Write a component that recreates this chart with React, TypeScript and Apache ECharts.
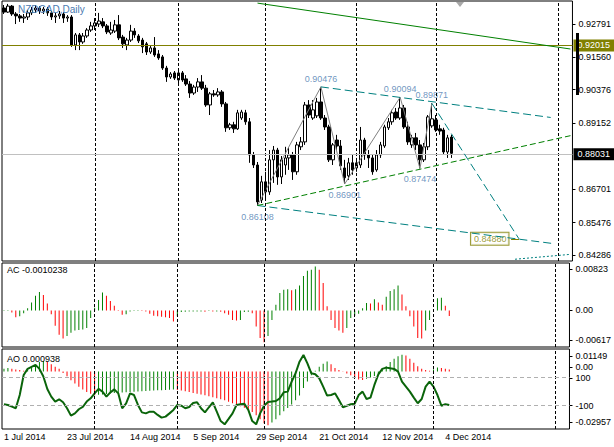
import React, { useEffect, useRef } from 'react';
import * as echarts from 'echarts';

const F = '"Liberation Sans", Arial, sans-serif';
const TOTAL_SLOTS = 144;
const TICK_STEP = 16;
const tickLabels = ['1 Jul 2014', '23 Jul 2014', '14 Aug 2014', '5 Sep 2014', '29 Sep 2014', '21 Oct 2014', '12 Nov 2014', '4 Dec 2014'];

// [open, close, low, high]
const candles: number[][] = [
  [0.9338, 0.9323, 0.9316, 0.9349], [0.9323, 0.9345, 0.9320, 0.9353], [0.9345, 0.9316, 0.9309, 0.9349], [0.9316, 0.9309, 0.9279, 0.9323],
  [0.9309, 0.9301, 0.9287, 0.9316], [0.9301, 0.9305, 0.9283, 0.9316], [0.9305, 0.9320, 0.9294, 0.9331], [0.9320, 0.9331, 0.9312, 0.9342],
  [0.9331, 0.9338, 0.9320, 0.9349], [0.9338, 0.9327, 0.9316, 0.9345], [0.9327, 0.9334, 0.9316, 0.9342], [0.9334, 0.9320, 0.9309, 0.9342],
  [0.9320, 0.9305, 0.9294, 0.9327], [0.9305, 0.9309, 0.9283, 0.9320], [0.9309, 0.9316, 0.9298, 0.9327], [0.9316, 0.9301, 0.9283, 0.9323],
  [0.9301, 0.9305, 0.9287, 0.9312], [0.9305, 0.9202, 0.9195, 0.9312], [0.9202, 0.9239, 0.9183, 0.9246], [0.9239, 0.9213, 0.9183, 0.9246],
  [0.9213, 0.9235, 0.9206, 0.9246], [0.9235, 0.9257, 0.9228, 0.9264], [0.9257, 0.9272, 0.9250, 0.9287], [0.9272, 0.9283, 0.9257, 0.9301],
  [0.9279, 0.9290, 0.9268, 0.9320], [0.9287, 0.9272, 0.9264, 0.9301], [0.9272, 0.9250, 0.9242, 0.9279], [0.9246, 0.9257, 0.9239, 0.9287],
  [0.9253, 0.9276, 0.9246, 0.9294], [0.9276, 0.9228, 0.9220, 0.9312], [0.9231, 0.9206, 0.9191, 0.9239], [0.9202, 0.9220, 0.9183, 0.9228],
  [0.9220, 0.9253, 0.9213, 0.9276], [0.9253, 0.9239, 0.9228, 0.9264], [0.9235, 0.9217, 0.9209, 0.9242], [0.9220, 0.9195, 0.9172, 0.9228],
  [0.9206, 0.9176, 0.9165, 0.9213], [0.9176, 0.9191, 0.9169, 0.9198], [0.9191, 0.9165, 0.9158, 0.9231], [0.9169, 0.9154, 0.9147, 0.9183],
  [0.9158, 0.9117, 0.9110, 0.9165], [0.9117, 0.9084, 0.9066, 0.9125], [0.9084, 0.9095, 0.9077, 0.9102], [0.9099, 0.9080, 0.9073, 0.9106],
  [0.9073, 0.9099, 0.9058, 0.9110], [0.9099, 0.9073, 0.9066, 0.9106], [0.9077, 0.9058, 0.9051, 0.9091], [0.9058, 0.9025, 0.9007, 0.9069],
  [0.9025, 0.9047, 0.9018, 0.9055], [0.9047, 0.9066, 0.9029, 0.9080], [0.9066, 0.9043, 0.9036, 0.9091], [0.9043, 0.8981, 0.8974, 0.9055],
  [0.8981, 0.9022, 0.8944, 0.9029], [0.9022, 0.9018, 0.9011, 0.9036], [0.9018, 0.9029, 0.9011, 0.9043], [0.9029, 0.8985, 0.8974, 0.9036],
  [0.8985, 0.8897, 0.8882, 0.8992], [0.8897, 0.8908, 0.8889, 0.8915], [0.8908, 0.8893, 0.8878, 0.8919], [0.8893, 0.8952, 0.8889, 0.8963],
  [0.8933, 0.8955, 0.8926, 0.8963], [0.8952, 0.8919, 0.8908, 0.8963], [0.8919, 0.8797, 0.8768, 0.8933], [0.8797, 0.8760, 0.8749, 0.8808],
  [0.8760, 0.8624, 0.86108, 0.8771], [0.8631, 0.8698, 0.8620, 0.8720], [0.8698, 0.8661, 0.8631, 0.8735], [0.8661, 0.8779, 0.8650, 0.8815],
  [0.8779, 0.8815, 0.8694, 0.8830], [0.8815, 0.8716, 0.8687, 0.8823], [0.8716, 0.8779, 0.8690, 0.8793], [0.8760, 0.8786, 0.8724, 0.8827],
  [0.8786, 0.8797, 0.8742, 0.8823], [0.8797, 0.8735, 0.8705, 0.8808], [0.8735, 0.8834, 0.8724, 0.8845], [0.8827, 0.8845, 0.8815, 0.8863],
  [0.8845, 0.8981, 0.8834, 0.8992], [0.8981, 0.8944, 0.8933, 0.8999], [0.8933, 0.8963, 0.8926, 0.8999], [0.8941, 0.8992, 0.8933, 0.9007],
  [0.8992, 0.8933, 0.8926, 0.90476], [0.8933, 0.8900, 0.8889, 0.8944], [0.8900, 0.8779, 0.8771, 0.8908], [0.8779, 0.8834, 0.8760, 0.8841],
  [0.8852, 0.8830, 0.8815, 0.8871], [0.8830, 0.8757, 0.8742, 0.8852], [0.8749, 0.8713, 0.86901, 0.8779], [0.8720, 0.8768, 0.8705, 0.8786],
  [0.8768, 0.8742, 0.8724, 0.8797], [0.8749, 0.8768, 0.8735, 0.8786], [0.8760, 0.8852, 0.8749, 0.8900], [0.8852, 0.8797, 0.8779, 0.8860],
  [0.8797, 0.8786, 0.8749, 0.8815], [0.8786, 0.8735, 0.8724, 0.8797], [0.8742, 0.8797, 0.8735, 0.8815], [0.8797, 0.8834, 0.8786, 0.8845],
  [0.8830, 0.8900, 0.8823, 0.8908], [0.8897, 0.8919, 0.8889, 0.8933], [0.8919, 0.8952, 0.8908, 0.8963], [0.8955, 0.8933, 0.8926, 0.8970],
  [0.8933, 0.8970, 0.8926, 0.90094], [0.8970, 0.8900, 0.8893, 0.8981], [0.8900, 0.8845, 0.8834, 0.8919], [0.8834, 0.8860, 0.8823, 0.8871],
  [0.8860, 0.8834, 0.8815, 0.8878], [0.8834, 0.8779, 0.87474, 0.8852], [0.8779, 0.8827, 0.8771, 0.8841], [0.8827, 0.8937, 0.8815, 0.8944],
  [0.8904, 0.8930, 0.8897, 0.89871], [0.8926, 0.8889, 0.8882, 0.8944], [0.8893, 0.8885, 0.8871, 0.8908], [0.8889, 0.8808, 0.8797, 0.8897],
  [0.8808, 0.8860, 0.8786, 0.8871], [0.8863, 0.88031, 0.8786, 0.8871],
];

const acValues = [
  0.0001, 0.0001, -0.0004, -0.0013, -0.0011, -0.0005, 0.0004, 0.0015, 0.0028, 0.0035,
  0.0029, 0.0013, -0.0007, -0.0029, -0.0046, -0.0053, -0.0048, -0.0042, -0.0038, -0.0037,
  -0.0036, -0.0033, -0.0014, 0.0005, 0.0020, 0.0034, 0.0028, 0.0018, 0.0009, -0.0001,
  -0.0008, -0.0007, -0.0002, -0.0001, 0.0001, -0.0001, -0.0002, -0.0006, -0.0010, -0.0011,
  -0.0012, -0.0013, -0.0014, -0.0021, -0.0011, -0.0003, -0.00025, -0.0002, -0.0002, -0.0002,
  -0.0002, -0.00025, -0.0001, -0.0002, -0.0002, -0.00025, -0.0005, -0.0008, -0.0018, -0.0019,
  -0.0018, -0.0003, -0.00025, -0.0005, -0.0030, -0.0052, -0.0060, -0.0048, -0.0018, 0.0011,
  0.0033, 0.0039, 0.0040, 0.0038, 0.0040, 0.0047, 0.0065, 0.0075, 0.0077, 0.0083,
  0.0077, 0.0052, 0.0008, -0.0018, -0.0033, -0.0038, -0.0042, -0.0033, -0.0014, -0.0010,
  -0.0006, 0.0004, 0.0014, 0.0013, 0.0021, 0.0015, 0.0011, 0.0026, 0.0037, 0.0040,
  0.0047, 0.0030, 0.0008, -0.0011, -0.0030, -0.0052, -0.0053, -0.0038, -0.0018, -0.0002,
  0.0023, 0.0024, 0.0009, -0.0010238,
];

const aoValues = [
  0.0014, 0.0017, 0.0014, 0.0010, 0.0007, 0.0003, 0.0007, 0.0020, 0.0034, 0.0048,
  0.0054, 0.0048, 0.0037, 0.0024, 0.0014, -0.0008, -0.0025, -0.0045, -0.0062, -0.0078,
  -0.0092, -0.0105, -0.0115, -0.0122, -0.0120, -0.0118, -0.0116, -0.0113, -0.0111, -0.0110,
  -0.0108, -0.0107, -0.0105, -0.0104, -0.0103, -0.0102, -0.0100, -0.0099, -0.0098, -0.0097,
  -0.0096, -0.0095, -0.0094, -0.0093, -0.0095, -0.0098, -0.0102, -0.0106, -0.0110, -0.0114,
  -0.0118, -0.0122, -0.0127, -0.0132, -0.0137, -0.0142, -0.0148, -0.0155, -0.0163, -0.0170,
  -0.0178, -0.0186, -0.0195, -0.0208, -0.0225, -0.0245, -0.0265, -0.0276, -0.0262, -0.0245,
  -0.0225, -0.0204, -0.0187, -0.0170, -0.0148, -0.0123, -0.0085, -0.0051, -0.0020, 0.0003,
  0.0024, 0.0039, 0.0051, 0.0037, 0.0017, 0.0007, -0.0002, -0.0010, -0.0020, -0.0031,
  -0.0041, -0.0044, -0.0037, -0.0031, -0.0024, -0.0014, 0.0007, 0.0027, 0.0048, 0.0065,
  0.0078, 0.0085, 0.0082, 0.0065, 0.0044, 0.0027, 0.0014, 0.0007, 0.0003, 0.0010,
  0.0020, 0.0017, 0.0014, 0.000938,
];

const oscValues = [
  -90, -95, -107, -118, -25, 116, 159, 173, 187, 159,
  105, 18, -36, -71, -55, -76, -118, -170, -154, -125,
  -109, -71, -48, -13, 18, -1, -36, -6, 15, -13,
  -118, -83, -13, -25, -95, -147, -154, -142, -142, -165,
  -184, -177, -154, -130, -95, -100, -118, -109, -81, -76,
  -118, -147, -111, -76, -142, -208, -231, -193, -154, -95,
  -90, -86, -130, -208, -231, -154, -100, -74, -71, -67,
  -48, -6, -1, 69, 128, 210, 257, 198, 128, 121,
  93, 34, -29, -25, -13, -60, -111, -100, -90, -86,
  -25, -1, -53, -43, 46, 121, 159, 168, 163, 159,
  140, 69, 34, -1, -43, -83, -53, 34, 69, 34,
  -25, -100, -90, -95,
];

const zigzagPoints: [number, number][] = [[64, 0.86108], [80, 0.90476], [86, 0.86901], [100, 0.90094], [105, 0.87474], [108, 0.89871]];
const priceTicks = [0.92791, 0.9156, 0.90376, 0.89152, 0.86701, 0.85476, 0.84286];
const levelLine = 0.92015;
const bidPrice = 0.88031;
const targetPoint: [number, number] = [130, 0.8488];
const vLineIdx = [23, 44, 66, 89, 109, 140];

const GREEN = '#008000';
const RED = '#ff0000';
const TEAL = '#008080';
const OLIVE = '#808000';
const LBL = '#4a7ab0';

function colored(vals: number[]) {
  return vals.map((v, i) => ({
    value: v,
    itemStyle: { color: i === 0 || v >= vals[i - 1] ? GREEN : RED },
  }));
}

const vMarks = vLineIdx.map((x) => ({ xAxis: x, lineStyle: { color: '#000', type: [3, 2], width: 1 } }));

export default function App() {
  const ref = useRef<HTMLDivElement>(null);
  useEffect(() => {
    if (!ref.current) return;
    const chart = echarts.init(ref.current, undefined, { renderer: 'svg' });
    const cats = Array.from({ length: TOTAL_SLOTS }, (_, i) => String(i));
    const baseX = {
      type: 'category', data: cats, boundaryGap: true,
      axisLine: { show: false }, axisTick: { show: false }, axisLabel: { show: false }, splitLine: { show: false },
    };
    const yCommon = {
      type: 'value', position: 'right', splitLine: { show: false }, axisLine: { show: false },
    };
    const lblStyle = { color: '#000', fontSize: 9, fontFamily: F, margin: 6 };
    const acLbl = [0.00783, 0, -0.00566];
    const aoLbl = [0.0079, 0.00225, -0.0259];
    const oscLbl = [95, -100];
    const option: any = {
      animation: false,
      backgroundColor: '#fff',
      grid: [
        { left: 2, top: 1, width: 575, height: 260, show: true, borderColor: '#000', borderWidth: 1, backgroundColor: '#fff' },
        { left: 2, top: 263, width: 575, height: 84, show: true, borderColor: '#000', borderWidth: 1, backgroundColor: '#fff' },
        { left: 2, top: 349, width: 575, height: 80, show: true, borderColor: '#000', borderWidth: 1, backgroundColor: '#fff' },
      ],
      xAxis: [
        { ...baseX, gridIndex: 0 },
        { ...baseX, gridIndex: 1 },
        {
          ...baseX, gridIndex: 2,
          axisLabel: {
            show: true, interval: TICK_STEP - 1, align: 'left', margin: 3, color: '#000', fontSize: 9, fontFamily: F,
            formatter: (_v: string, idx: number) => tickLabels[idx / TICK_STEP] ?? '',
          },
        },
      ],
      yAxis: [
        {
          ...yCommon, gridIndex: 0, min: 0.84065, max: 0.93638,
          axisTick: { show: true, customValues: priceTicks, length: 3, lineStyle: { color: '#000' } },
          axisLabel: { ...lblStyle, customValues: priceTicks, formatter: (v: number) => v.toFixed(5) },
        },
        {
          ...yCommon, gridIndex: 1, min: -0.00689, max: 0.00896,
          axisTick: { show: true, customValues: acLbl, length: 3, lineStyle: { color: '#000' } },
          axisLabel: { ...lblStyle, customValues: acLbl, formatter: (v: number) => (v > 0.001 ? '0.00823' : v < -0.001 ? '-0.00617' : '0.00') },
        },
        {
          ...yCommon, gridIndex: 2, min: -0.0295, max: 0.01149,
          axisTick: { show: true, customValues: aoLbl, length: 3, lineStyle: { color: '#000' } },
          axisLabel: { ...lblStyle, customValues: aoLbl, formatter: (v: number) => (v > 0.005 ? '0.01149' : v < -0.001 ? '-0.02957' : '0.00') },
        },
        {
          ...yCommon, gridIndex: 2, min: -264, max: 299,
          axisTick: { show: true, customValues: oscLbl, length: 3, lineStyle: { color: '#000' } },
          axisLabel: { ...lblStyle, customValues: oscLbl, formatter: (v: number) => (v > 0 ? '100' : '-100') },
        },
      ],
      series: [
        {
          type: 'candlestick', xAxisIndex: 0, yAxisIndex: 0, data: candles, barWidth: 3,
          itemStyle: { color: '#fff', color0: '#000', borderColor: '#000', borderColor0: '#000', borderWidth: 1 },
          markLine: {
            symbol: ['none', 'none'], silent: true, animation: false, label: { show: false },
            data: [
              ...vMarks,
              {
                yAxis: levelLine, lineStyle: { color: OLIVE, type: 'solid', width: 1 },
                label: { show: true, position: 'end', distance: 1, formatter: '0.92015', color: '#fff', backgroundColor: OLIVE, padding: [2, 8, 1, 4], fontSize: 9, fontFamily: F },
              },
              {
                yAxis: bidPrice, lineStyle: { color: '#c0c0c0', type: 'solid', width: 1 },
                label: { show: true, position: 'end', distance: 1, formatter: '0.88031', color: '#fff', backgroundColor: '#000', padding: [2, 8, 1, 4], fontSize: 9, fontFamily: F },
              },
              [{ coord: [64, 0.9356], lineStyle: { color: GREEN, type: 'solid', width: 1 } }, { coord: [143, 0.9187] }],
              [{ coord: [80, 0.90476], lineStyle: { color: TEAL, type: [8, 4], width: 1 } }, { coord: [138, 0.8935] }],
              [{ coord: [64, 0.86108], lineStyle: { color: TEAL, type: [8, 4], width: 1 } }, { coord: [139, 0.847] }],
              [{ coord: [108, 0.89871], lineStyle: { color: TEAL, type: [8, 4], width: 1 } }, { coord: [130, 0.8488] }],
              [{ coord: [64, 0.86108], lineStyle: { color: GREEN, type: [6, 3], width: 1 } }, { coord: [143, 0.8868] }],
              [{ coord: [129, 0.8413], lineStyle: { color: TEAL, type: [2, 2], width: 1 } }, { coord: [143, 0.8431] }],
              [{ coord: [128, 0.8488], lineStyle: { color: OLIVE, type: 'solid', width: 1 } }, { coord: [130, 0.8488] }],
            ],
          },
        },
        {
          type: 'line', xAxisIndex: 0, yAxisIndex: 0, data: zigzagPoints, symbol: 'none',
          lineStyle: { color: '#808080', width: 1 }, z: 3,
        },
        {
          type: 'scatter', xAxisIndex: 0, yAxisIndex: 0, symbolSize: 1, itemStyle: { color: 'rgba(0,0,0,0)' }, z: 4,
          label: { show: true, color: LBL, fontSize: 9, fontFamily: F, formatter: (p: any) => p.value[1].toFixed(5) },
          data: [
            ...zigzagPoints.map((pt, k) => ({
              value: pt,
              label: k % 2 === 0 ? { position: 'bottom', distance: 6 } : { position: 'top', distance: 3 },
            })),
            {
              value: targetPoint,
              label: { position: 'left', distance: 10, color: OLIVE, borderColor: OLIVE, borderWidth: 1, padding: [2, 2, 1, 3], backgroundColor: '#fff' },
            },
          ],
        },
        {
          type: 'bar', xAxisIndex: 1, yAxisIndex: 1, data: colored(acValues), barWidth: 1,
          markLine: { symbol: ['none', 'none'], silent: true, label: { show: false }, data: vMarks },
        },
        {
          type: 'bar', xAxisIndex: 2, yAxisIndex: 2, data: colored(aoValues), barWidth: 1,
          markLine: { symbol: ['none', 'none'], silent: true, label: { show: false }, data: vMarks },
        },
        {
          type: 'line', xAxisIndex: 2, yAxisIndex: 3, data: oscValues, symbol: 'none',
          lineStyle: { color: '#0a640a', width: 2 },
          markLine: {
            symbol: ['none', 'none'], silent: true, label: { show: false },
            data: [
              { yAxis: 100, lineStyle: { color: '#b0b0b0', type: [4, 3], width: 1 } },
              { yAxis: -100, lineStyle: { color: '#b0b0b0', type: [4, 3], width: 1 } },
            ],
          },
        },
      ],
      graphic: [
        { type: 'text', x: 18, y: 4, z: 10, style: { text: 'NZDCAD,Daily', fill: LBL, font: `10px ${F}` } },
        { type: 'text', x: 7, y: 265, z: 10, style: { text: 'AC -0.0010238', fill: '#000', font: `9px ${F}` } },
        { type: 'text', x: 7, y: 354, z: 10, style: { text: 'AO 0.000938', fill: '#000', font: `9px ${F}` } },
        { type: 'polygon', z: 10, shape: { points: [[456, 2], [464, 2], [460, 7]] }, style: { fill: '#a8a8a8' } },
        { type: 'rect', z: 10, shape: { x: 576, y: 33, width: 3, height: 62 }, style: { fill: '#000' } },
      ],
    };
    chart.setOption(option);
    return () => chart.dispose();
  }, []);
  return <div ref={ref} style={{ position: 'fixed', left: 0, top: 0, width: 614, height: 447 }} />;
}
